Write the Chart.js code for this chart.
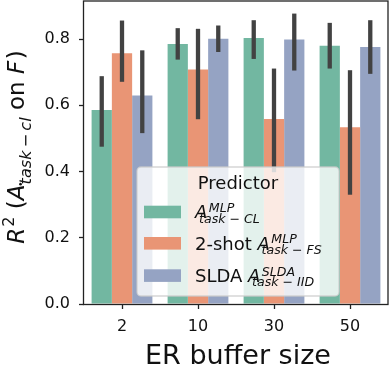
<!DOCTYPE html>
<html>
<head>
<meta charset="UTF-8">
<title>ER buffer size</title>
<script src="https://cdn.jsdelivr.net/npm/chart.js"></script>
<style>
  body { margin: 0; background: #fff; }
  canvas { display: block; }
</style>
</head>
<body>
<canvas id="chart" width="391" height="369"></canvas>
<script>
  const categories = ['2', '10', '30', '50'];

  // bar heights (mean R^2)
  const clValues  = [0.586, 0.785, 0.803, 0.780];
  const fsValues  = [0.757, 0.708, 0.559, 0.534];
  const iidValues = [0.630, 0.801, 0.799, 0.776];

  // confidence intervals
  const clLow   = [0.475, 0.738, 0.740, 0.711];
  const clHigh  = [0.688, 0.833, 0.857, 0.849];
  const fsLow   = [0.671, 0.558, 0.398, 0.330];
  const fsHigh  = [0.856, 0.831, 0.711, 0.706];
  const iidLow  = [0.516, 0.761, 0.705, 0.695];
  const iidHigh = [0.766, 0.841, 0.877, 0.857];

  // legend text pieces: prefix, "A", superscript, subscript
  const legendTitle = 'Predictor';
  const legendPrefix = ['', '2-shot ', 'SLDA '];
  const legendSup = ['MLP', 'MLP', 'SLDA'];
  const legendSub = ['task − CL', 'task − FS', 'task − IID'];

  const xTitle = 'ER buffer size';

  const colors = ['#72b7a1', '#e99575', '#95a3c3'];
  const FONT = '"DejaVu Sans", sans-serif';
  const font = (size, italic) => (italic ? 'italic ' : '') + size + 'px ' + FONT;

  const lows = [clLow, fsLow, iidLow];
  const highs = [clHigh, fsHigh, iidHigh];

  // draws a list of text pieces one after the other, returns the width
  function drawPieces(ctx, x, y, parts, measureOnly) {
    let cx = x;
    parts.forEach(p => {
      ctx.font = font(p.size, p.italic);
      if (!measureOnly) ctx.fillText(p.t, cx, y - (p.dy || 0));
      if (p.dot && !measureOnly) {
        ctx.beginPath();
        ctx.arc(cx + p.dot[0], y - p.dot[1], 1.3, 0, Math.PI * 2);
        ctx.fill();
      }
      cx += ctx.measureText(p.t).width + (p.gap || 0);
    });
    return cx - x;
  }

  const extras = {
    id: 'extras',
    afterDatasetsDraw(chart) {
      const ctx = chart.ctx;
      const y = chart.scales.y;
      const area = chart.chartArea;

      // error bars
      ctx.save();
      ctx.strokeStyle = '#424242';
      ctx.lineWidth = 4.3;
      for (let i = 0; i < 3; i++) {
        chart.getDatasetMeta(i).data.forEach((bar, j) => {
          ctx.beginPath();
          ctx.moveTo(bar.x, y.getPixelForValue(lows[i][j]));
          ctx.lineTo(bar.x, y.getPixelForValue(highs[i][j]));
          ctx.stroke();
        });
      }
      ctx.restore();

      // frame
      ctx.save();
      ctx.strokeStyle = '#222';
      ctx.lineWidth = 1.3;
      ctx.strokeRect(area.left - 0.5, area.top, area.right - area.left + 0.5, area.bottom - area.top + 0.5);
      ctx.restore();

      // legend
      ctx.save();
      const lx = 137, ly = 167, lw = 202, lh = 129;
      ctx.beginPath();
      ctx.roundRect(lx, ly, lw, lh, 4);
      ctx.fillStyle = 'rgba(255,255,255,0.8)';
      ctx.fill();
      ctx.strokeStyle = 'rgba(204,204,204,0.8)';
      ctx.lineWidth = 1.3;
      ctx.stroke();

      ctx.fillStyle = '#111';
      ctx.textBaseline = 'alphabetic';
      ctx.textAlign = 'center';
      ctx.font = font(18);
      ctx.fillText(legendTitle, lx + lw / 2, 188.5);
      ctx.textAlign = 'left';

      const rowCenters = [212, 243.3, 275.6];
      rowCenters.forEach((cy, i) => {
        ctx.fillStyle = colors[i];
        ctx.fillRect(144, cy - 6.3, 37, 12.6);
        ctx.fillStyle = '#111';
        const base = cy + 6.3;
        ctx.font = font(18);
        let x = 195;
        x += ctx.measureText(legendPrefix[i]).width;
        ctx.fillText(legendPrefix[i], 195, base);
        ctx.font = font(18, true);
        ctx.fillText('A', x, base);
        const aw = ctx.measureText('A').width;
        ctx.font = font(12.6, true);
        ctx.fillText(legendSup[i], x + aw + 1.5, base - 6.3);
        ctx.fillText(legendSub[i], x + 4, base + 4.4);
      });
      ctx.restore();

      // x title
      ctx.save();
      ctx.fillStyle = '#111';
      ctx.font = font(27);
      ctx.textAlign = 'center';
      ctx.textBaseline = 'alphabetic';
      ctx.fillText(xTitle, 238, 363.5);
      ctx.restore();

      // y title: R^2 (A_task-cl on F), rotated
      const F = 23, s = 16.1;
      const parts = [
        { t: 'R', size: F, italic: true, gap: 1 },
        { t: '2', size: s, dy: 10.5 },
        { t: ' (', size: F },
        { t: 'A', size: F, italic: true, dot: [16, 3.5] },
        { t: 'task\u2009−\u2009cl', size: s, italic: true, dy: -7 },
        { t: ' on ', size: F },
        { t: 'F', size: F, italic: true, gap: 1.5 },
        { t: ')', size: F }
      ];
      ctx.save();
      ctx.fillStyle = '#111';
      ctx.textAlign = 'left';
      ctx.textBaseline = 'alphabetic';
      const total = drawPieces(ctx, 0, 0, parts, true);
      ctx.translate(24, 147);
      ctx.rotate(-Math.PI / 2);
      drawPieces(ctx, -total / 2, 0, parts, false);
      ctx.restore();
    }
  };

  new Chart(document.getElementById('chart'), {
    type: 'bar',
    data: {
      labels: categories,
      datasets: [
        { label: 'CL', data: clValues, backgroundColor: colors[0] },
        { label: 'FS', data: fsValues, backgroundColor: colors[1] },
        { label: 'IID', data: iidValues, backgroundColor: colors[2] }
      ]
    },
    options: {
      responsive: false,
      animation: false,
      devicePixelRatio: 1,
      layout: { padding: { left: 0, top: 1, right: 3, bottom: 0 } },
      datasets: { bar: { categoryPercentage: 0.8, barPercentage: 1.0 } },
      plugins: { legend: { display: false }, tooltip: { enabled: false } },
      scales: {
        x: {
          offset: true,
          afterFit: s => { s.height = 65; s.paddingLeft = 0; s.paddingRight = 0; },
          border: { display: false },
          grid: { offset: false, drawOnChartArea: false, tickLength: 5, tickWidth: 1.3, color: '#222' },
          ticks: { color: '#111', font: { family: FONT, size: 16 }, padding: 8 }
        },
        y: {
          min: 0,
          max: 0.915,
          afterFit: s => { s.width = 84; s.paddingTop = 0; s.paddingBottom = 0; },
          border: { display: false },
          grid: { drawOnChartArea: false, tickLength: 5, tickWidth: 1.3, color: '#222' },
          ticks: {
            stepSize: 0.2,
            includeBounds: false,
            color: '#111',
            font: { family: FONT, size: 16 },
            padding: 9,
            callback: v => v.toFixed(1)
          }
        }
      }
    },
    plugins: [extras]
  });
</script>
</body>
</html>
